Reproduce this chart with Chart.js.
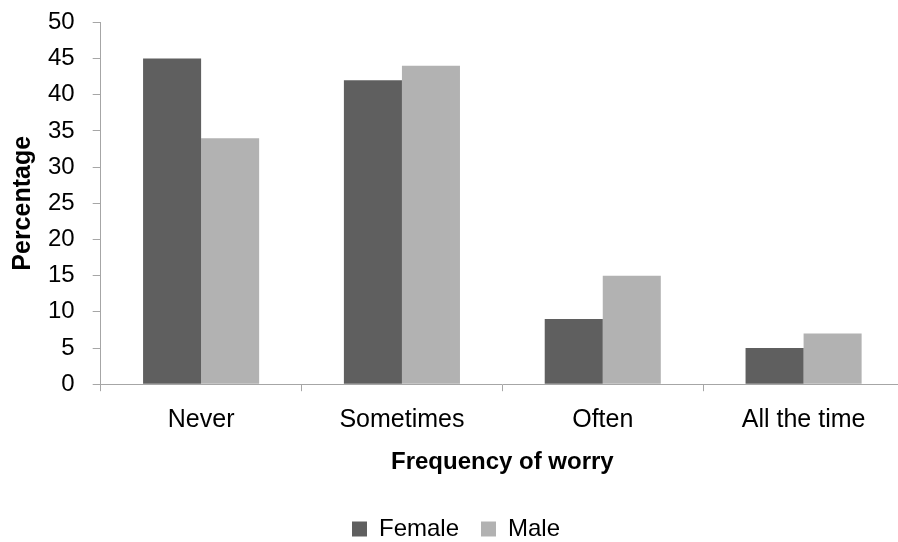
<!DOCTYPE html>
<html>
<head>
<meta charset="utf-8">
<script src="https://cdn.jsdelivr.net/npm/chart.js@4/dist/chart.umd.min.js"></script>
<style>
  html, body { margin: 0; padding: 0; background: #ffffff; overflow: hidden; }
  #wrap { width: 898px; height: 542px; overflow: hidden; }
  #c { display: block; margin-top: -10px; }
</style>
</head>
<body>
<div id="wrap"><canvas id="c" width="904" height="561"></canvas></div>
<script>
// Share of respondents by how often they worry, split by sex
const categories = ['Never', 'Sometimes', 'Often', 'All the time'];
const female = [45, 42, 9, 5];
const male = [34, 44, 15, 7];
const yTicks = [0, 5, 10, 15, 20, 25, 30, 35, 40, 45, 50];

const axisGray = '#a6a6a6';
const sans = "'Liberation Sans', Arial, sans-serif";

new Chart(document.getElementById('c'), {
  type: 'bar',
  data: {
    labels: categories,
    datasets: [
      { label: 'Female', data: female, backgroundColor: '#5f5f5f', borderWidth: 0 },
      { label: 'Male', data: male, backgroundColor: '#b2b2b2', borderWidth: 0 }
    ]
  },
  options: {
    responsive: false,
    animation: false,
    devicePixelRatio: 1,
    layout: { padding: { top: 0, right: 0, left: 8, bottom: 0 } },
    datasets: { bar: { categoryPercentage: 0.578, barPercentage: 1.0 } },
    plugins: {
      legend: {
        position: 'bottom',
        labels: {
          font: { family: sans, size: 24 },
          color: '#000000',
          boxWidth: 15,
          boxHeight: 15,
          padding: 22,
          useBorderRadius: false
        }
      },
      tooltip: { enabled: false }
    },
    scales: {
      x: {
        grid: {
          offset: true,
          drawOnChartArea: false,
          drawTicks: true,
          tickLength: 7,
          color: axisGray
        },
        border: { display: true, color: axisGray, width: 1 },
        ticks: {
          font: { family: sans, size: 25 },
          color: '#000000',
          padding: 14
        },
        title: {
          display: true,
          text: 'Frequency of worry',
          font: { family: sans, size: 24, weight: 'bold' },
          color: '#000000',
          padding: { top: -1, bottom: 18 }
        }
      },
      y: {
        min: 0,
        max: 50,
        afterBuildTicks: (scale) => { scale.ticks = yTicks.map(v => ({ value: v })); },
        grid: {
          drawOnChartArea: false,
          drawTicks: true,
          tickLength: 8,
          color: axisGray
        },
        border: { display: true, color: axisGray, width: 1 },
        ticks: {
          font: { family: sans, size: 24 },
          color: '#000000',
          padding: 18
        },
        title: {
          display: true,
          text: 'Percentage',
          font: { family: sans, size: 25, weight: 'bold' },
          color: '#000000',
          padding: { top: 0, bottom: -8 }
        }
      }
    }
  }
});
</script>
</body>
</html>
